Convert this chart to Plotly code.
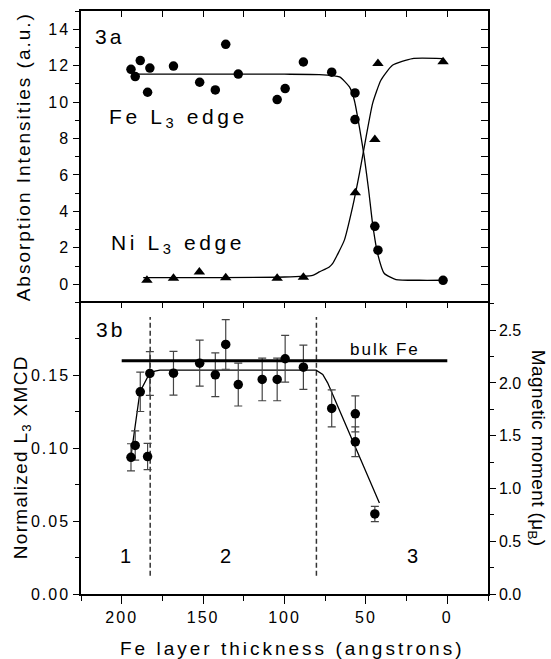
import json
import plotly.graph_objects as go

# ---- Panel 3a: L3-edge absorption intensities vs Fe layer thickness ----
fe_thickness = [194.3, 191.7, 188.6, 184.1, 182.7, 168.2, 152.1, 142.5, 136.1, 128.4,
                104.5, 99.6, 88.4, 71.0, 56.7, 56.7, 44.5, 42.6, 2.6]
fe_intensity = [11.80, 11.40, 12.28, 10.54, 11.87, 11.98, 11.09, 10.67, 13.17, 11.54,
                10.14, 10.74, 12.20, 11.64, 10.50, 9.04, 3.18, 1.87, 0.22]

ni_thickness = [184.5, 168.2, 152.3, 136.1, 104.5, 88.4, 56.5, 44.5, 42.6, 2.6]
ni_intensity = [0.22, 0.33, 0.67, 0.36, 0.33, 0.38, 5.02, 7.95, 12.12, 12.21]

# fitted step curves
fe_fit_thickness = [192.0, 150.0, 100.0, 78.6, 66.2, 60.1, 57.1, 54.0, 51.0, 48.3,
                    45.9, 42.8, 38.7, 31.5, 17.2, 2.9]
fe_fit_intensity = [11.53, 11.53, 11.53, 11.51, 11.38, 10.83, 10.10, 8.63, 6.99, 5.16,
                    3.33, 1.68, 0.59, 0.26, 0.22, 0.22]
ni_fit_thickness = [186.8, 150.0, 100.0, 82.7, 78.6, 72.5, 70.5, 63.3, 58.2, 54.0,
                    49.9, 45.9, 40.8, 33.7, 21.4, 3.0]
ni_fit_intensity = [0.37, 0.37, 0.40, 0.49, 0.68, 0.95, 1.13, 2.41, 4.24, 6.08,
                    8.08, 9.92, 11.20, 12.02, 12.39, 12.39]

# ---- Panel 3b: normalized L3 XMCD vs Fe layer thickness ----
xmcd_thickness = [194.3, 191.7, 188.6, 184.1, 182.7, 168.2, 152.1, 142.5, 136.1, 128.4,
                  113.7, 104.5, 99.6, 88.4, 71.0, 56.5, 56.5, 44.5]
xmcd_value = [0.0938, 0.1019, 0.1387, 0.0943, 0.1513, 0.1515, 0.1584, 0.1504, 0.1712, 0.1437,
              0.1472, 0.1472, 0.1614, 0.1556, 0.1273, 0.1236, 0.1044, 0.0549]
xmcd_error = [0.0093, 0.0100, 0.0135, 0.0090, 0.0150, 0.0150, 0.0158, 0.0150, 0.0170, 0.0147,
              0.0146, 0.0146, 0.0160, 0.0152, 0.0127, 0.0124, 0.0102, 0.0052]

xmcd_fit_thickness = [194.5, 188.8, 183.1, 179.6, 176.5, 80.6, 76.5, 73.5, 70.4, 41.7]
xmcd_fit_value = [0.0930, 0.1387, 0.1510, 0.1529, 0.1536, 0.1536, 0.1506, 0.1449, 0.1369, 0.0625]

# bulk Fe reference moment (mu_B), drawn against the right-hand scale
bulk_fe_thickness = [200, 0]
bulk_fe_moment = [2.21, 2.21]

region_boundaries = [182.5, 80.4]
boundary_span = [0.0125, 0.19]
region_names = ["1", "2", "3"]
region_name_x = [197.3, 135.7, 20.6]
region_name_y = 0.0258

x_tick_values = [200, 150, 100, 50, 0]
xmcd_tick_values = [0.0, 0.05, 0.10, 0.15]
moment_per_xmcd = 13.81   # right-hand scale: magnetic moment (mu_B) per unit XMCD

FONT = "Liberation Sans, Arial, Helvetica, sans-serif"
BLACK = "black"

fig = go.Figure()

# panel 3a
fig.add_trace(go.Scatter(x=fe_fit_thickness, y=fe_fit_intensity, mode="lines",
                         line=dict(color=BLACK, width=1.3, shape="spline", smoothing=0.5),
                         xaxis="x2", yaxis="y2", showlegend=False))
fig.add_trace(go.Scatter(x=ni_fit_thickness, y=ni_fit_intensity, mode="lines",
                         line=dict(color=BLACK, width=1.3, shape="spline", smoothing=0.5),
                         xaxis="x2", yaxis="y4", showlegend=False))
fig.add_trace(go.Scatter(x=fe_thickness, y=fe_intensity, mode="markers",
                         marker=dict(symbol="circle", size=9.5, color=BLACK),
                         xaxis="x2", yaxis="y2", showlegend=False))
fig.add_trace(go.Scatter(x=ni_thickness, y=ni_intensity, mode="markers",
                         marker=dict(symbol="triangle-up", size=10, color=BLACK),
                         xaxis="x2", yaxis="y2", showlegend=False))

# panel 3b
for xb in region_boundaries:
    fig.add_trace(go.Scatter(x=[xb, xb], y=boundary_span, mode="lines",
                             line=dict(color="#333", width=1.5, dash="5px,3px"),
                             xaxis="x", yaxis="y", showlegend=False))
fig.add_trace(go.Scatter(x=bulk_fe_thickness, y=bulk_fe_moment, mode="lines",
                         line=dict(color=BLACK, width=3),
                         xaxis="x3", yaxis="y3", showlegend=False))
fig.add_trace(go.Scatter(x=xmcd_fit_thickness, y=xmcd_fit_value, mode="lines",
                         line=dict(color=BLACK, width=1.3),
                         xaxis="x", yaxis="y", showlegend=False))
fig.add_trace(go.Scatter(x=xmcd_thickness, y=xmcd_value, mode="markers",
                         marker=dict(symbol="circle", size=9.5, color=BLACK),
                         error_y=dict(type="data", array=xmcd_error, visible=True,
                                      color="#444", thickness=1.2, width=4),
                         xaxis="x", yaxis="y", showlegend=False))

axis_common = dict(showline=True, linecolor=BLACK, linewidth=1.5, showgrid=False,
                   zeroline=False, tickcolor=BLACK, tickwidth=1.3,
                   tickfont=dict(family=FONT, size=16, color=BLACK))
x_range = [225, -25]

fig.update_layout(
    width=551, height=659,
    margin=dict(l=81, r=63, t=11, b=65, autoexpand=False),
    paper_bgcolor="white", plot_bgcolor="white",
    font=dict(family=FONT, color=BLACK),
    xaxis=dict(axis_common, domain=[0, 1], anchor="y", range=x_range, side="bottom",
               tickmode="array", tickvals=x_tick_values, ticks="outside", ticklen=8,
               minor=dict(dtick=25, tick0=0, ticks="outside", ticklen=5,
                          tickcolor=BLACK, tickwidth=1.3)),
    xaxis3=dict(axis_common, overlaying="x", anchor="y", range=x_range, side="top",
                dtick=25, tick0=0, ticks="inside", ticklen=6, showticklabels=False),
    xaxis2=dict(axis_common, domain=[0, 1], anchor="y2", range=x_range, side="top",
                dtick=25, tick0=0, ticks="inside", ticklen=6, showticklabels=False),
    yaxis=dict(axis_common, domain=[0, 0.5], anchor="x", range=[0, 0.2],
               tickmode="array", tickvals=xmcd_tick_values, tickformat=".2f",
               ticks="outside", ticklen=6,
               minor=dict(dtick=0.025, tick0=0, ticks="outside", ticklen=4,
                          tickcolor=BLACK, tickwidth=1.3)),
    yaxis3=dict(axis_common, overlaying="y", anchor="x", side="right",
                range=[0, 0.2 * moment_per_xmcd], dtick=0.5, tick0=0, tickformat=".1f",
                ticks="outside", ticklen=6,
                minor=dict(dtick=0.25, tick0=0, ticks="outside", ticklen=4,
                           tickcolor=BLACK, tickwidth=1.3)),
    yaxis2=dict(axis_common, domain=[0.5, 1], anchor="x2", range=[-1, 15],
                dtick=2, tick0=0, ticks="outside", ticklen=6,
                minor=dict(dtick=1, tick0=0, ticks="outside", ticklen=4,
                           tickcolor=BLACK, tickwidth=1.3)),
    yaxis4=dict(axis_common, overlaying="y2", anchor="x2", side="right", range=[-1, 15],
                dtick=1, tick0=0, ticks="inside", ticklen=7, showticklabels=False),
)

label_font = dict(family=FONT, size=21, color=BLACK)
title_font = dict(family=FONT, size=19, color=BLACK)

# (annotation, letter spacing in px)
annotations = [
    (dict(text="3a", x=207, y=13.6, xref="x2", yref="y2", showarrow=False,
          font=label_font, xanchor="center", yanchor="middle"), 3),
    (dict(text="Fe L<sub>3</sub> edge", x=165.3, y=9.1, xref="x2", yref="y2",
          showarrow=False, font=label_font, xanchor="center", yanchor="middle"), 3.6),
    (dict(text="Ni L<sub>3</sub> edge", x=165.3, y=2.2, xref="x2", yref="y2",
          showarrow=False, font=label_font, xanchor="center", yanchor="middle"), 3.6),
    (dict(text="3b", x=207, y=0.1815, xref="x", yref="y", showarrow=False,
          font=label_font, xanchor="center", yanchor="middle"), 3),
    (dict(text="bulk Fe", x=38.5, y=0.1679, xref="x", yref="y", showarrow=False,
          font=dict(family=FONT, size=17, color=BLACK), xanchor="center",
          yanchor="middle"), 2),
    (dict(text="Fe layer thickness (angstrons)", x=0.519, y=-0.094, xref="paper",
          yref="paper", showarrow=False, font=title_font, xanchor="center",
          yanchor="middle"), 3),
    (dict(text="Absorption Intensities (a.u.)", x=-0.1425, y=0.749, xref="paper",
          yref="paper", showarrow=False, font=title_font, textangle=-90,
          xanchor="center", yanchor="middle"), 2),
    (dict(text="Normalized L<sub>3</sub> XMCD", x=-0.146, y=0.235, xref="paper",
          yref="paper", showarrow=False, font=title_font, textangle=-90,
          xanchor="center", yanchor="middle"), 1.3),
    (dict(text="Magnetic moment (\u03bc<sub>B</sub>)", x=1.1204, y=0.2507, xref="paper",
          yref="paper", showarrow=False, font=title_font, textangle=90,
          xanchor="center", yanchor="middle"), 0.4),
]
for name, xv in zip(region_names, region_name_x):
    annotations.append((dict(text=name, x=xv, y=region_name_y, xref="x", yref="y",
                             showarrow=False, font=dict(family=FONT, size=20, color=BLACK),
                             xanchor="center", yanchor="middle"), 2))
fig.update_layout(annotations=[a for a, _ in annotations])
letter_spacing = [s for _, s in annotations]

# widen the lettering of the tick labels and annotations
spacing_js = """
var spacing = %s;
document.querySelectorAll('.xaxislayer-above text, .yaxislayer-above text').forEach(function(t){
  t.style.letterSpacing = '2px';
});
document.querySelectorAll('g.annotation').forEach(function(g){
  var i = parseInt(g.getAttribute('data-index'), 10);
  var t = g.querySelector('.annotation-text');
  if (t && !isNaN(i) && i < spacing.length) { t.style.letterSpacing = spacing[i] + 'px'; }
});
""" % json.dumps(letter_spacing)

fig.write_html("out.html", post_script=spacing_js)
